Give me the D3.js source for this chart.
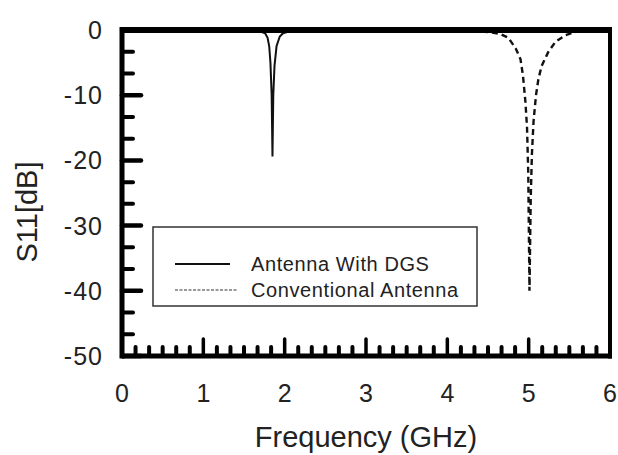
<!DOCTYPE html>
<html><head><meta charset="utf-8">
<script src="https://cdn.jsdelivr.net/npm/d3@7"></script>
<style>
html,body{margin:0;padding:0;background:#fff;}
svg{display:block;font-family:"Liberation Sans",Arial,sans-serif;}
</style></head>
<body><svg id="c" width="618" height="455"></svg>
<script>
// ---- data ----
const dgsFreq = [0, 1.5, 1.65, 1.72, 1.76, 1.79, 1.81, 1.825, 1.84, 1.85, 1.86, 1.875, 1.9, 1.94, 1.98, 2.05, 2.2, 6];
const dgsS11  = [0, -0.05, -0.15, -0.3, -0.5, -1.2, -2.5, -5, -10, -19.4, -10, -5.5, -2.5, -1, -0.5, -0.25, -0.1, 0];
const convFreq = [0, 4.2, 4.4, 4.55, 4.65, 4.75, 4.84, 4.9, 4.93, 4.96, 4.98, 4.995, 5.01, 5.025, 5.04, 5.06, 5.09, 5.12, 5.16, 5.24, 5.33, 5.45, 5.6, 6];
const convS11  = [0, -0.05, -0.2, -0.4, -0.6, -1.2, -2.8, -4.5, -7, -11, -15, -22, -40, -26, -19, -14, -10, -7.5, -5.5, -3.4, -1.8, -0.8, -0.2, 0];
const xTickLabels = ["0","1","2","3","4","5","6"];
const yTickLabels = ["0","-10","-20","-30","-40","-50"];
const seriesNames = ["Antenna With DGS","Conventional Antenna"];
const xTitle = "Frequency (GHz)";
const yTitle = "S11[dB]";

// ---- layout ----
const L = 122, R = 610, T = 30, B = 356;
const svg = d3.select("#c");
const x = d3.scaleLinear().domain([0, 6]).range([L, R]);
const y = d3.scaleLinear().domain([-50, 0]).range([B, T]);

// clip
svg.append("clipPath").attr("id","clip").append("rect")
  .attr("x", L).attr("y", T - 2).attr("width", R - L).attr("height", B - T + 4);

const line = d3.line().x(d => x(d[0])).y(d => y(d[1]));
const dgs = dgsFreq.map((f, i) => [f, dgsS11[i]]);
const conv = convFreq.map((f, i) => [f, convS11[i]]);

const g = svg.append("g").attr("clip-path","url(#clip)");
g.append("path").datum(dgs).attr("d", line)
  .attr("fill","none").attr("stroke","#111").attr("stroke-width",2);
g.append("path").datum(conv).attr("d", line)
  .attr("fill","none").attr("stroke","#111").attr("stroke-width",2.4)
  .attr("stroke-dasharray","6,4");

// ticks (inward)
const xMajor = xTickLabels.map(Number);
const xMinor = d3.range(0, 36).map(i => i / 6).filter(v => Math.abs(v - Math.round(v)) > 1e-6);
const yMajor = yTickLabels.map(Number);
const yMinor = d3.range(-50, 0.01, 10/3).filter(v => Math.abs(v/10 - Math.round(v/10)) > 1e-6);

const tk = svg.append("g").attr("stroke","#000").attr("stroke-linecap","round");
tk.selectAll(".xmaj").data(xMajor).join("line")
  .attr("x1", d => x(d)).attr("x2", d => x(d)).attr("y1", B).attr("y2", B - 17).attr("stroke-width", 3.5);
tk.selectAll(".xmin").data(xMinor).join("line")
  .attr("x1", d => x(d)).attr("x2", d => x(d)).attr("y1", B).attr("y2", B - 9).attr("stroke-width", 4);
tk.selectAll(".ymaj").data(yMajor).join("line")
  .attr("x1", L).attr("x2", L + 19).attr("y1", d => y(d)).attr("y2", d => y(d)).attr("stroke-width", 4.5);
tk.selectAll(".ymin").data(yMinor).join("line")
  .attr("x1", L).attr("x2", L + 11).attr("y1", d => y(d)).attr("y2", d => y(d)).attr("stroke-width", 4);

// frame
svg.append("line").attr("x1", L).attr("x2", R).attr("y1", T).attr("y2", T).attr("stroke","#000").attr("stroke-width",6);
svg.append("line").attr("x1", L).attr("x2", R + 2).attr("y1", B).attr("y2", B).attr("stroke","#000").attr("stroke-width",5);
svg.append("line").attr("x1", L).attr("x2", L).attr("y1", T - 3).attr("y2", B + 2.5).attr("stroke","#000").attr("stroke-width",5);
svg.append("line").attr("x1", R).attr("x2", R).attr("y1", T - 3).attr("y2", B + 2.5).attr("stroke","#000").attr("stroke-width",4);

// tick labels
svg.selectAll(".xl").data(xTickLabels).join("text")
  .attr("x", d => x(+d)).attr("y", 402).attr("text-anchor","middle")
  .attr("font-size", 25).attr("fill","#222").text(d => d);
svg.selectAll(".yl").data(yTickLabels).join("text")
  .attr("x", 103).attr("y", d => y(+d) + 9).attr("text-anchor","end")
  .attr("font-size", 25).attr("letter-spacing", 1).attr("fill","#222").text(d => d);

// axis titles
svg.append("text").attr("x", 366).attr("y", 447).attr("text-anchor","middle")
  .attr("font-size", 29).attr("fill","#222").text(xTitle);
svg.append("text").attr("transform","translate(37,212) rotate(-90)").attr("text-anchor","middle")
  .attr("font-size", 29).attr("fill","#222").text(yTitle);

// legend
const lg = svg.append("g");
lg.append("rect").attr("x", 153).attr("y", 227).attr("width", 324).attr("height", 79)
  .attr("fill","#fff").attr("stroke","#333").attr("stroke-width",1.5);
lg.append("line").attr("x1",175).attr("x2",230).attr("y1",264).attr("y2",264).attr("stroke","#111").attr("stroke-width",2.2);
lg.append("line").attr("x1",175).attr("x2",237).attr("y1",290).attr("y2",290).attr("stroke","#333").attr("stroke-width",1.2).attr("stroke-dasharray","3,1.5");
lg.selectAll(".lt").data(seriesNames).join("text")
  .attr("x", 251).attr("y", (d,i) => 271 + i * 26).attr("font-size", 20).attr("letter-spacing", 0.6)
  .attr("fill","#222").text(d => d);
</script></body></html>
